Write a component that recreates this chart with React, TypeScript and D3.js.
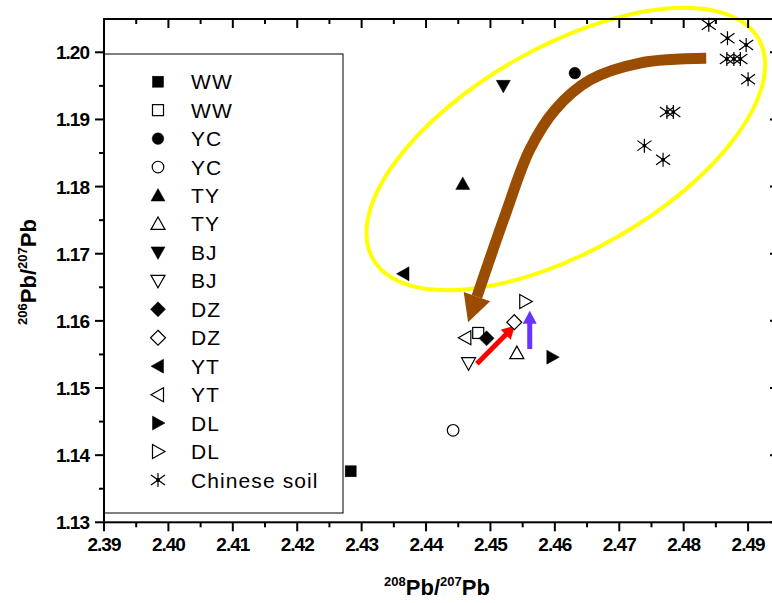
import React from "react";
import * as d3 from "d3";

const W = 772;
const H = 603;

// ---- data ----
const seriesNames = ["WW", "WW", "YC", "YC", "TY", "TY", "BJ", "BJ", "DZ", "DZ", "YT", "YT", "DL", "DL", "Chinese soil"];
const seriesShapes = ["square", "square", "circle", "circle", "up", "up", "down", "down", "diamond", "diamond", "left", "left", "right", "right", "star"];
const seriesFilled = [true, false, true, false, true, false, true, false, true, false, true, false, true, false, false];
const seriesX: number[][] = [
  [2.4283], [2.4481], [2.4631], [2.4442], [2.4457], [2.4541], [2.452], [2.4466],
  [2.4494], [2.4537], [2.4365], [2.4461], [2.4596], [2.4554],
  [2.4839, 2.4868, 2.4897, 2.4867, 2.4878, 2.4888, 2.49, 2.4774, 2.4784, 2.4739, 2.4768],
];
const seriesY: number[][] = [
  [1.1376], [1.1582], [1.1969], [1.1437], [1.1804], [1.1552], [1.195], [1.1537],
  [1.1574], [1.1598], [1.167], [1.1575], [1.1546], [1.1629],
  [1.2041, 1.2021, 1.2011, 1.199, 1.199, 1.199, 1.196, 1.1911, 1.1911, 1.1861, 1.184],
];

const xTicks = [2.39, 2.4, 2.41, 2.42, 2.43, 2.44, 2.45, 2.46, 2.47, 2.48, 2.49];
const yTicks = [1.13, 1.14, 1.15, 1.16, 1.17, 1.18, 1.19, 1.2];
const xMinor = [2.395, 2.405, 2.415, 2.425, 2.435, 2.445, 2.455, 2.465, 2.475, 2.485];
const yMinor = [1.135, 1.145, 1.155, 1.165, 1.175, 1.185, 1.195];

// annotation paths (data units)
const brownX = [2.4835, 2.4732, 2.4655, 2.46, 2.4561, 2.4523, 2.4479];
const brownY = [1.1991, 1.1984, 1.1959, 1.1914, 1.1855, 1.1758, 1.1636];
const redArrow = [[2.4479, 1.1536], [2.4538, 1.1593]];
const blueArrow = [[2.4561, 1.1558], [2.4561, 1.1615]];
const ellipseCenter = [2.4617, 1.1856];

const FONT = "'Liberation Sans', Arial, Helvetica, sans-serif";

function Marker({ shape, filled, cx, cy }: { shape: string; filled: boolean; cx: number; cy: number }) {
  const fill = filled ? "#000" : "#fff";
  const sw = filled ? 0.5 : 1.2;
  const common = { fill, stroke: "#000", strokeWidth: sw };
  switch (shape) {
    case "square":
      return <rect x={cx - 5.5} y={cy - 5.5} width={11} height={11} {...common} />;
    case "circle":
      return <circle cx={cx} cy={cy} r={5.8} {...common} />;
    case "up":
      return <polygon points={`${cx - 7},${cy + 5.5} ${cx + 7},${cy + 5.5} ${cx},${cy - 7}`} {...common} />;
    case "down":
      return <polygon points={`${cx - 7},${cy - 5.5} ${cx + 7},${cy - 5.5} ${cx},${cy + 7}`} {...common} />;
    case "left":
      return <polygon points={`${cx + 5.5},${cy - 7} ${cx + 5.5},${cy + 7} ${cx - 7},${cy}`} {...common} />;
    case "right":
      return <polygon points={`${cx - 5.5},${cy - 7} ${cx - 5.5},${cy + 7} ${cx + 7},${cy}`} {...common} />;
    case "diamond":
      return <polygon points={`${cx},${cy - 7.5} ${cx + 7.5},${cy} ${cx},${cy + 7.5} ${cx - 7.5},${cy}`} {...common} />;
    case "star":
      return (
        <g stroke="#000" strokeWidth={1.2}>
          <line x1={cx} y1={cy - 7} x2={cx} y2={cy + 7} />
          <line x1={cx - 7} y1={cy - 5} x2={cx + 7} y2={cy + 5} />
          <line x1={cx - 7} y1={cy + 5} x2={cx + 7} y2={cy - 5} />
          <circle cx={cx} cy={cy} r={1.3} fill="#000" />
        </g>
      );
    default:
      return null;
  }
}

export default function App() {
  const left = 104, right = 779, top = 19, bottom = 522.3;
  const x = d3.scaleLinear().domain([2.39, 2.4948]).range([left, right]);
  const y = d3.scaleLinear().domain([1.13, 1.20496]).range([bottom, top]);

  const brownPts: [number, number][] = brownX.map((v, i) => [x(v), y(brownY[i])]);
  const brownPath = d3.line().curve(d3.curveCatmullRom.alpha(0.5))(brownPts) || "";
  const n = brownPts.length;
  const E = brownPts[n - 1];
  const P = brownPts[n - 2];
  let dx = E[0] - P[0], dy = E[1] - P[1];
  const len = Math.hypot(dx, dy);
  dx /= len; dy /= len;
  const tip = [E[0] + dx * 27, E[1] + dy * 27];
  const b1 = [E[0] - dy * 14, E[1] + dx * 14];
  const b2 = [E[0] + dy * 14, E[1] - dx * 14];

  function arrow(pts: number[][], color: string, key: string) {
    const x0 = x(pts[0][0]), y0 = y(pts[0][1]);
    const x1 = x(pts[1][0]), y1 = y(pts[1][1]);
    let ux = x1 - x0, uy = y1 - y0;
    const l = Math.hypot(ux, uy);
    ux /= l; uy /= l;
    const hl = 13, hw = 7;
    const bx = x1 - ux * hl, by = y1 - uy * hl;
    return (
      <g key={key}>
        <line x1={x0} y1={y0} x2={bx + ux * 1} y2={by + uy * 1} stroke={color} strokeWidth={5} />
        <polygon
          points={`${x1},${y1} ${bx - uy * hw},${by + ux * hw} ${bx + uy * hw},${by - ux * hw}`}
          fill={color}
        />
      </g>
    );
  }

  const legendTop = 54, legendBottom = 513, legendLeft = 104, legendRight = 343;
  const rowY0 = 81.7, rowStep = 28.45;
  const ecx = x(ellipseCenter[0]), ecy = y(ellipseCenter[1]);

  return (
    <svg width={W} height={H} style={{ position: "absolute", left: 0, top: 0, background: "#fff" }} fontFamily={FONT}>
      <rect x={0} y={0} width={W} height={H} fill="#fff" />

      {/* yellow ellipse */}
      <ellipse
        cx={ecx}
        cy={ecy}
        rx={222}
        ry={102}
        transform={`rotate(-29.7 ${ecx} ${ecy})`}
        fill="none"
        stroke="#ffff00"
        strokeWidth={4}
      />

      {/* brown arrow */}
      <path d={brownPath} fill="none" stroke="#9a4d00" strokeWidth={11} />
      <polygon points={`${tip[0]},${tip[1]} ${b1[0]},${b1[1]} ${b2[0]},${b2[1]}`} fill="#9a4d00" />

      {arrow(redArrow, "#ff0000", "red")}
      {arrow(blueArrow, "#6633ff", "blue")}

      {/* data points */}
      {seriesX.map((xs, si) =>
        xs.map((xv, i) => (
          <Marker key={`${si}-${i}`} shape={seriesShapes[si]} filled={seriesFilled[si]} cx={x(xv)} cy={y(seriesY[si][i])} />
        ))
      )}

      {/* legend */}
      <rect x={legendLeft} y={legendTop} width={legendRight - legendLeft} height={legendBottom - legendTop} fill="#fff" stroke="#000" strokeWidth={1} />
      {seriesNames.map((name, i) => {
        const ry = rowY0 + i * rowStep;
        return (
          <g key={`leg-${i}`}>
            <Marker shape={seriesShapes[i]} filled={seriesFilled[i]} cx={158} cy={ry} />
            <text x={191} y={ry + 7.5} fontSize={21} letterSpacing={1.1} fill="#000">
              {name}
            </text>
          </g>
        );
      })}

      {/* frame */}
      <rect x={left} y={top} width={right - left} height={bottom - top} fill="none" stroke="#000" strokeWidth={2} />

      {/* x ticks */}
      {xTicks.map((t) => (
        <g key={`xt-${t}`}>
          <line x1={x(t)} x2={x(t)} y1={bottom} y2={bottom + 9} stroke="#000" strokeWidth={2} />
          <line x1={x(t)} x2={x(t)} y1={top} y2={top + 9} stroke="#000" strokeWidth={2} />
          <text x={x(t)} y={551} textAnchor="middle" fontSize={19} fontWeight="bold" letterSpacing={-1}>
            {d3.format(".2f")(t)}
          </text>
        </g>
      ))}
      {xMinor.map((t) => (
        <g key={`xm-${t}`}>
          <line x1={x(t)} x2={x(t)} y1={bottom} y2={bottom + 5} stroke="#000" strokeWidth={2} />
          <line x1={x(t)} x2={x(t)} y1={top} y2={top + 5} stroke="#000" strokeWidth={2} />
        </g>
      ))}

      {/* y ticks */}
      {yTicks.map((t) => (
        <g key={`yt-${t}`}>
          <line x1={left - 9} x2={left} y1={y(t)} y2={y(t)} stroke="#000" strokeWidth={2} />
          <line x1={right - 9} x2={right} y1={y(t)} y2={y(t)} stroke="#000" strokeWidth={2} />
          <text x={89} y={y(t) + 7} textAnchor="end" fontSize={19} fontWeight="bold" letterSpacing={-1}>
            {d3.format(".2f")(t)}
          </text>
        </g>
      ))}
      {yMinor.map((t) => (
        <g key={`ym-${t}`}>
          <line x1={left - 5} x2={left} y1={y(t)} y2={y(t)} stroke="#000" strokeWidth={2} />
          <line x1={right - 5} x2={right} y1={y(t)} y2={y(t)} stroke="#000" strokeWidth={2} />
        </g>
      ))}

      {/* axis titles */}
      <text x={437} y={595} textAnchor="middle" fontWeight="bold" fontSize={22}>
        <tspan fontSize={13} dy={-9}>208</tspan>
        <tspan dy={9}>Pb/</tspan>
        <tspan fontSize={13} dy={-9}>207</tspan>
        <tspan dy={9}>Pb</tspan>
      </text>
      <text transform="translate(36,272) rotate(-90)" textAnchor="middle" fontWeight="bold" fontSize={22}>
        <tspan fontSize={13} dy={-9}>206</tspan>
        <tspan dy={9}>Pb/</tspan>
        <tspan fontSize={13} dy={-9}>207</tspan>
        <tspan dy={9}>Pb</tspan>
      </text>
    </svg>
  );
}
